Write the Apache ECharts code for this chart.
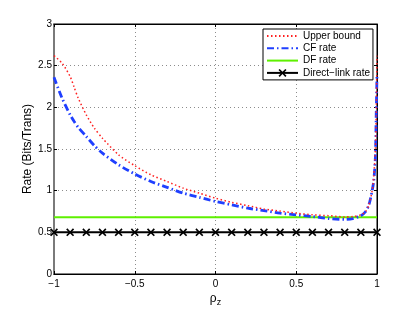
<!DOCTYPE html>
<html><head><meta charset="utf-8">
<script src="https://cdn.jsdelivr.net/npm/echarts@6/dist/echarts.min.js"></script>
<style>html,body{margin:0;padding:0;background:#fff}#c{width:415px;height:312px}</style>
</head><body><div id="c"></div>
<script>
const seriesNames = ['Upper bound', 'CF rate', 'DF rate', 'Direct\u2212link rate'];
const rhoCurve = [-1, -0.95, -0.9, -0.875, -0.85, -0.8, -0.75, -0.7, -0.6, -0.5, -0.4, -0.3, -0.2, -0.1, 0, 0.1, 0.2, 0.3, 0.4, 0.5, 0.6, 0.7, 0.8, 0.85, 0.9, 0.93, 0.95, 0.97, 0.98, 0.99, 0.995, 1];
const upperBound = [2.62, 2.53, 2.37, 2.24, 2.11, 1.91, 1.75, 1.63, 1.43, 1.30, 1.19, 1.11, 1.03, 0.97, 0.91, 0.86, 0.82, 0.78, 0.755, 0.73, 0.71, 0.70, 0.685, 0.69, 0.71, 0.75, 0.83, 1.0, 1.17, 1.5, 1.9, 2.62];
const cfRate = [2.36, 2.11, 1.91, 1.83, 1.76, 1.65, 1.54, 1.45, 1.31, 1.20, 1.11, 1.04, 0.97, 0.92, 0.87, 0.83, 0.79, 0.76, 0.73, 0.71, 0.69, 0.665, 0.655, 0.665, 0.70, 0.75, 0.83, 1.0, 1.12, 1.4, 1.9, 2.39];
const rhoDF = [-1, 1];
const dfRate = [0.68, 0.68];
const rhoDirect = [-1, -0.9, -0.8, -0.7, -0.6, -0.5, -0.4, -0.3, -0.2, -0.1, 0, 0.1, 0.2, 0.3, 0.4, 0.5, 0.6, 0.7, 0.8, 0.9, 1];
const directRate = [0.5, 0.5, 0.5, 0.5, 0.5, 0.5, 0.5, 0.5, 0.5, 0.5, 0.5, 0.5, 0.5, 0.5, 0.5, 0.5, 0.5, 0.5, 0.5, 0.5, 0.5];
const xTicks = {min: -1, max: 1, interval: 0.5};
const yTicks = {min: 0, max: 3, interval: 0.5};

const pairs = (xs, ys) => xs.map((x, i) => [x, ys[i]]);
const FONT = 'Liberation Sans';
const fmt = v => String(v).replace('-', '\u2212');
const gridLine = {show: true, lineStyle: {color: '#8c8c8c', type: [1, 3], width: 1}};
const xMark = 'path://M0,1.5L1.5,0L5,3.5L8.5,0L10,1.5L6.5,5L10,8.5L8.5,10L5,6.5L1.5,10L0,8.5L3.5,5Z';
const hidden = {opacity: 0};

const chart = echarts.init(document.getElementById('c'), null, {renderer: 'canvas'});
chart.setOption({
  animation: false,
  backgroundColor: '#fff',
  textStyle: {fontFamily: FONT},
  grid: {left: 54, right: 38, top: 24, bottom: 35, show: true, borderColor: '#000', borderWidth: 1},
  legend: {
    left: 263, top: 29, orient: 'vertical', width: 109,
    backgroundColor: '#fff', borderColor: '#000', borderWidth: 1,
    padding: [2, 3, 2, 3], itemGap: 2.3, itemWidth: 31, itemHeight: 10,
    textStyle: {fontFamily: FONT, fontSize: 10, color: '#000'},
    data: [
      {name: seriesNames[0], itemStyle: hidden},
      {name: seriesNames[1], itemStyle: hidden},
      {name: seriesNames[2], itemStyle: hidden},
      {name: seriesNames[3]}
    ]
  },
  xAxis: [{
    type: 'value', ...xTicks, position: 'bottom',
    axisLine: {show: true, onZero: false, lineStyle: {color: '#000', width: 1}},
    axisTick: {show: true, inside: true, length: 3, lineStyle: {color: '#000'}},
    axisLabel: {fontFamily: FONT, fontSize: 10, color: '#000', margin: 5, formatter: fmt},
    splitLine: gridLine,
    name: '\u03c1{s|z}', nameLocation: 'middle', nameGap: 17, nameMoveOverlap: false,
    nameTextStyle: {fontFamily: FONT, fontSize: 12, color: '#000', rich: {s: {fontFamily: FONT, fontSize: 9, color: '#000', verticalAlign: 'bottom', padding: [7, 0, 0, 0]}}}
  }, {
    type: 'value', ...xTicks, position: 'top',
    axisLine: {show: true, onZero: false, lineStyle: {color: '#000'}},
    axisTick: {show: true, inside: true, length: 3, lineStyle: {color: '#000'}},
    axisLabel: {show: false}, splitLine: {show: false}
  }],
  yAxis: [{
    type: 'value', ...yTicks, position: 'left',
    axisLine: {show: true, onZero: false, lineStyle: {color: '#7a7a7a', width: 2}},
    axisTick: {show: true, inside: true, length: 3, lineStyle: {color: '#000'}},
    axisLabel: {fontFamily: FONT, fontSize: 10, color: '#000', margin: 2},
    splitLine: gridLine,
    name: 'Rate (Bits/Trans)', nameLocation: 'middle', nameGap: 20, nameMoveOverlap: false,
    nameTextStyle: {fontFamily: FONT, fontSize: 12, color: '#000'}
  }, {
    type: 'value', ...yTicks, position: 'right',
    axisLine: {show: true, onZero: false, lineStyle: {color: '#000'}},
    axisTick: {show: true, inside: true, length: 3, lineStyle: {color: '#000'}},
    axisLabel: {show: false}, splitLine: {show: false}
  }],
  series: [
    {name: seriesNames[0], type: 'line', data: pairs(rhoCurve, upperBound), symbol: 'none', smooth: 0.25,
     lineStyle: {color: '#ff2020', width: 1.5, type: [1.5, 2.5]}, itemStyle: {color: '#ff2020'}, z: 4},
    {name: seriesNames[1], type: 'line', data: pairs(rhoCurve, cfRate), symbol: 'none', smooth: 0.25,
     lineStyle: {color: '#1f3fff', width: 2.8, type: [7, 3, 1.5, 3]}, itemStyle: {color: '#1f3fff'}, z: 3},
    {name: seriesNames[2], type: 'line', data: pairs(rhoDF, dfRate), symbol: 'none',
     lineStyle: {color: '#5ef000', width: 2}, itemStyle: {color: '#5ef000'}, z: 2},
    {name: seriesNames[3], type: 'line', data: pairs(rhoDirect, directRate), symbol: xMark, symbolSize: 8, showAllSymbol: true,
     lineStyle: {color: '#000', width: 2}, itemStyle: {color: '#000'}, z: 5}
  ]
});
</script></body></html>
